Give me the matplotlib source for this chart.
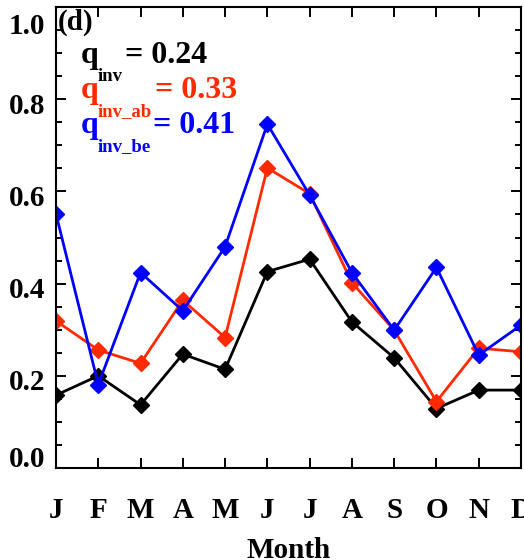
import matplotlib
matplotlib.use("Agg")
import matplotlib.pyplot as plt
import matplotlib.transforms as mtransforms
from matplotlib.ticker import MultipleLocator

plt.rcParams['font.family'] = ['Liberation Serif', 'DejaVu Serif']
plt.rcParams['font.weight'] = 'bold'

months = ['J', 'F', 'M', 'A', 'M', 'J', 'J', 'A', 'S', 'O', 'N', 'D']
q_inv = [0.158, 0.200, 0.137, 0.247, 0.214, 0.426, 0.453, 0.317, 0.239, 0.129, 0.169, 0.169]
q_inv_ab = [0.319, 0.256, 0.227, 0.364, 0.283, 0.651, 0.595, 0.402, 0.299, 0.144, 0.260, 0.252]
q_inv_be = [0.551, 0.181, 0.424, 0.341, 0.480, 0.746, 0.592, 0.424, 0.299, 0.435, 0.245, 0.310]
yticks = [0.0, 0.2, 0.4, 0.6, 0.8, 1.0]

stats = [('inv', '0.24'), ('inv_ab', '0.33'), ('inv_be', '0.41')]
colors = ['#000000', '#ff2a00', '#0000ff']

W, H = 524, 560
fig = plt.figure(figsize=(W / 100, H / 100), dpi=100)
ax = fig.add_axes([56 / W, 1 - 468 / H, (521 - 56) / W, (468 - 7) / H])

x = list(range(len(months)))
for series, c in zip([q_inv, q_inv_ab, q_inv_be], colors):
    ax.plot(x, series, color=c, lw=2.0, marker='D', ms=8.5, mec=c, mfc=c)

ax.set_xlim(0, 11)
ax.set_ylim(0, 1.0)
ax.set_xticks(x)
ax.set_xticklabels(months, fontsize=21, fontweight='bold')
ax.set_yticks(yticks)
ax.yaxis.set_minor_locator(MultipleLocator(0.05))
ylabels = ax.set_yticklabels(['%.1f' % v for v in yticks], fontsize=21, fontweight='bold')
ax.tick_params(axis='both', which='major', direction='in', length=7.5, width=1.4,
               top=True, right=True)
ax.tick_params(axis='y', which='minor', direction='in', length=4, width=1.4,
               left=True, right=True)
ax.tick_params(axis='x', which='major', pad=21)
ax.tick_params(axis='y', which='major', pad=8)
for s in ax.spines.values():
    s.set_linewidth(1.5)
ax.set_xlabel('Month', fontsize=21, fontweight='bold', labelpad=9)

# keep end labels inside the axis range, shift middle ones slightly down
for i, lab in enumerate(ylabels):
    if i == 0:
        lab.set_va('bottom')
        dy = -5
    elif i == len(ylabels) - 1:
        lab.set_va('top')
        dy = -6
    else:
        dy = -4
    lab.set_transform(lab.get_transform() +
                      mtransforms.ScaledTranslation(0, dy / 100, fig.dpi_scale_trans))


def ftext(px, py, s, **kw):
    fig.text(px / W, 1 - py / H, s, va='baseline', ha='left', fontweight='bold', **kw)


ftext(58, 30, '(d)', fontsize=21)

rows = [(63, 125), (98, 155), (133, 153)]
for (sub, val), c, (base, xeq) in zip(stats, colors, rows):
    ftext(81, base, 'q', fontsize=23, color=c)
    ftext(98, base + 18, sub, fontsize=13.5, color=c)
    ftext(xeq, base, '= ' + val, fontsize=23, color=c)

fig.savefig('out.png', dpi=100)
